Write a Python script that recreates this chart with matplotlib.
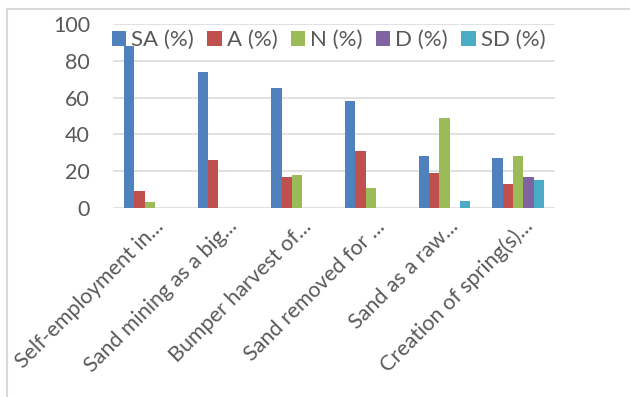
import matplotlib
matplotlib.use("Agg")
import matplotlib.pyplot as plt
import matplotlib.transforms as mtransforms
import numpy as np
from matplotlib.lines import Line2D

categories = ["Self-employment in...", "Sand mining as a big...", "Bumper harvest of...",
              "Sand removed for ...", "Sand as a raw...", "Creation of spring(s)..."]
series_names = ["SA (%)", "A (%)", "N (%)", "D (%)", "SD (%)"]
sa = [88, 74, 65, 58, 28, 27]
a = [9, 26, 17, 31, 19, 13]
n = [3, 0, 18, 11, 49, 28]
d = [0, 0, 0, 0, 0, 17]
sd = [0, 0, 0, 0, 4, 15]
colors = ["#4F81BD", "#C0504D", "#9BBB59", "#8064A2", "#4BACC6"]

plt.rcParams['font.family'] = ['Lato', 'DejaVu Sans']
txt = "#595959"
W, H = 630, 397

fig = plt.figure(figsize=(W/100, H/100), dpi=100)
ax = fig.add_axes([113/W, 1-208/H, (555-113)/W, (208-24)/H])

x = np.arange(len(categories))
bw = 0.14
for i, (vals, name, c) in enumerate(zip([sa, a, n, d, sd], series_names, colors)):
    ax.bar(x + (i - 2) * bw, vals, width=bw, color=c, label=name, zorder=3)

ax.set_xlim(-0.5, len(categories) - 0.5)
ax.set_ylim(0, 100)
ax.set_yticks([0, 20, 40, 60, 80, 100])
ax.yaxis.grid(True, color="#D9D9D9", linewidth=1.1, zorder=0)
for s in ax.spines.values():
    s.set_visible(False)
ax.tick_params(axis='both', length=0, colors=txt)
ax.tick_params(axis='y', pad=16.5, labelsize=15.5)
ax.set_xticks(x)
ax.set_xticklabels(categories, rotation=45, ha='right', va='center', rotation_mode='anchor',
                   fontsize=15.5, color=txt)
ax.tick_params(axis='x', pad=11)
off = mtransforms.ScaledTranslation(0.11, 0, fig.dpi_scale_trans)
for lab in ax.get_xticklabels():
    lab.set_transform(lab.get_transform() + off)

leg = fig.legend(*ax.get_legend_handles_labels(), loc='center left',
                 bbox_to_anchor=(112/W, 1-40/H), ncol=5, frameon=False,
                 fontsize=16, handlelength=0.64, handleheight=0.64, handletextpad=0.23,
                 columnspacing=0.6, labelcolor=txt, borderaxespad=0, borderpad=0)

fig.add_artist(Line2D([7/W, 1], [1-9/H, 1-9/H], color="#D9D9D9", linewidth=1.5, transform=fig.transFigure))
fig.add_artist(Line2D([7/W, 7/W], [0, 1-9/H], color="#D9D9D9", linewidth=1.5, transform=fig.transFigure))

fig.savefig("out.png", dpi=100)
